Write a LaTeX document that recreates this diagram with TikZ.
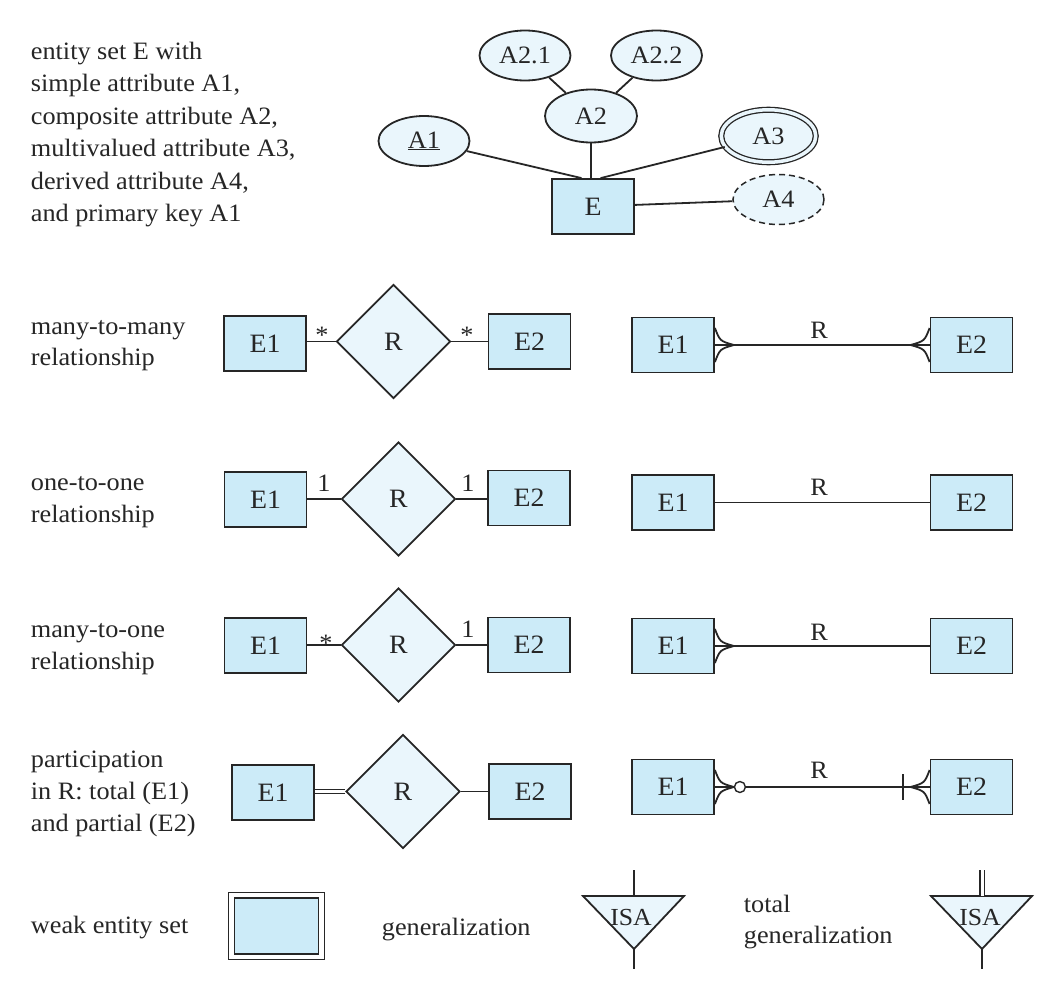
\documentclass[tikz,border=0pt]{standalone}
\usepackage{fontspec}
\setmainfont[FakeStretch=1.05]{Liberation Serif}
\usetikzlibrary{shapes.geometric,calc}
\definecolor{entfill}{HTML}{CCEBF8}
\definecolor{attfill}{HTML}{EAF6FC}
\definecolor{ink}{HTML}{262626}
\newcommand{\crowfoot}[2]{%
  \draw ($#1+(0,-17)$) .. controls ($#1+(#2*5,-4)$) .. ($#1+(#2*19,0)$);
  \draw ($#1+(0,17)$) .. controls ($#1+(#2*5,4)$) .. ($#1+(#2*19,0)$);}
\begin{document}
\begin{tikzpicture}[x=1pt,y=-1pt,line width=1.8pt,draw=ink,
  every node/.style={font=\fontsize{25}{30}\selectfont,text=ink},
  ent/.style={draw=ink,fill=entfill,minimum width=82pt,minimum height=55pt,inner sep=0pt,font=\fontsize{26.5}{30}\selectfont},
  attr/.style={ellipse,draw=ink,fill=attfill,minimum width=91pt,minimum height=50pt,inner sep=0pt},
  rel/.style={diamond,draw=ink,fill=attfill,minimum width=114pt,minimum height=114pt,inner sep=0pt,font=\fontsize{26.5}{30}\selectfont},
  txt/.style={anchor=base west,inner sep=0pt},
  lab/.style={anchor=base,inner sep=0pt},
  isatri/.style={draw=ink,fill=attfill,line join=miter}]
\useasboundingbox[fill=white] (0,0) rectangle (1063,1001);

% ---------- top: entity with attributes ----------
\node[txt] (t1) at (30,59) {entity set E with};
\node[txt] (t2) at (30,91.5) {simple attribute A1,};
\node[txt] (t3) at (30,124) {composite attribute A2,};
\node[txt] (t4) at (30,156.5) {multivalued attribute A3,};
\node[txt] (t5) at (30,189) {derived attribute A4,};
\node[txt] (t6) at (30,221.5) {and primary key A1};

\node[ent] (E) at (593,206.5) {E};
\node[attr] (A1) at (424,141) {\underline{A1}};
\node[attr,minimum width=92pt,minimum height=53pt] (A2) at (591,116) {A2};
\node[attr] (A21) at (525,55.5) {A2.1};
\node[attr] (A22) at (656.5,55.5) {A2.2};
\node[attr,line width=1.3pt,minimum width=94.5pt,minimum height=52.5pt,double=attfill,double distance=3.5pt] (A3) at (768.5,136) {A3};
\node[attr,line width=1.5pt,dash pattern=on 6pt off 4pt] (A4) at (778.5,199.5) {A4};
\draw (A1) -- (E.112);
\draw (A2) -- (A2 |- E.north);
\draw (A21) -- (A2);
\draw (A22) -- (A2);
\draw (A3) -- (E.75);
\draw (E) -- (A4);

% ---------- row 1: many-to-many ----------
\node[txt] (m1) at (30,334) {many-to-many};
\node[txt] (m2) at (30,365) {relationship};
\node[ent] (r1a) at (265,343.5) {E1};
\node[rel] (r1r) at (393.5,341.5) {R};
\node[ent] (r1b) at (529.5,341.5) {E2};
\draw (r1r.west) -- (r1r.west -| r1a.east);
\draw (r1r.east) -- (r1b.west);
\node[lab] (s1a) at (322,343.5) {*};
\node[lab] (s1b) at (467,343.5) {*};

\node[ent] (q1a) at (673,345) {E1};
\node[ent] (q1b) at (971.5,345) {E2};
\draw (q1a.east) -- (q1b.west);
\crowfoot{(q1a.east)}{1}
\crowfoot{(q1b.west)}{-1}
\node[lab] (q1r) at (819,338) {R};

% ---------- row 2: one-to-one ----------
\node[txt] (o1) at (30,490) {one-to-one};
\node[txt] (o2) at (30,522) {relationship};
\node[ent] (r2a) at (265.5,499.5) {E1};
\node[rel] (r2r) at (398.5,499) {R};
\node[ent] (r2b) at (529,498) {E2};
\draw (r2r.west) -- (r2r.west -| r2a.east);
\draw (r2r.east) -- (r2r.east -| r2b.west);
\node[lab] (n2a) at (324,491) {1};
\node[lab] (n2b) at (468,491) {1};

\node[ent] (q2a) at (673,502.5) {E1};
\node[ent] (q2b) at (971.5,502.5) {E2};
\draw (q2a.east) -- (q2b.west);
\node[lab] (q2r) at (819,495) {R};

% ---------- row 3: many-to-one ----------
\node[txt] (w1) at (30,637) {many-to-one};
\node[txt] (w2) at (30,669) {relationship};
\node[ent] (r3a) at (265.5,645.5) {E1};
\node[rel] (r3r) at (398.5,645) {R};
\node[ent] (r3b) at (529,645) {E2};
\draw (r3r.west) -- (r3r.west -| r3a.east);
\draw (r3r.east) -- (r3r.east -| r3b.west);
\node[lab] (s3a) at (326,651) {*};
\node[lab] (n3b) at (468,637) {1};

\node[ent] (q3a) at (673,646) {E1};
\node[ent] (q3b) at (971.5,646) {E2};
\draw (q3a.east) -- (q3b.west);
\crowfoot{(q3a.east)}{1}
\node[lab] (q3r) at (819,640) {R};

% ---------- row 4: participation ----------
\node[txt] (p1) at (30,767) {participation};
\node[txt] (p2) at (30,799) {in R: total (E1)};
\node[txt] (p3) at (30,831) {and partial (E2)};
\node[ent] (r4a) at (273,792.5) {E1};
\node[rel] (r4r) at (403,791.5) {R};
\node[ent] (r4b) at (530,791.5) {E2};
\draw[line width=1.2pt,double distance=2.5pt] (r4r.west) -- (r4r.west -| r4a.east);
\draw (r4r.east) -- (r4b.west);

\node[ent] (q4a) at (673,787) {E1};
\node[ent] (q4b) at (971.5,787) {E2};
\crowfoot{(q4a.east)}{1}
\node[circle,draw=ink,fill=white,line width=1.4pt,minimum size=11pt,inner sep=0pt] (c4) at ($(q4a.east)+(25,0)$) {};
\draw (q4a.east) -- (c4.west);
\draw (c4.east) -- (q4b.west);
\coordinate (bt) at ($(q4b.west)+(-27,-13)$);
\coordinate (bb) at ($(q4b.west)+(-27,13)$);
\draw (bt) -- (bb);
\crowfoot{(q4b.west)}{-1}
\node[lab] (q4r) at (819,778) {R};

% ---------- bottom row ----------
\node[txt] (wk) at (30,933) {weak entity set};
\node[ent,minimum width=90pt,minimum height=61.5pt,line width=1.4pt,double=white,double distance=4.2pt] (we) at (276.5,926) {};

\node[txt] (gen) at (381,935) {generalization};
\coordinate (i1l) at (583,896);
\coordinate (i1r) at (684,896);
\coordinate (i1b) at (634,949);
\coordinate (i1t) at (634,896);
\coordinate (i1u) at (634,870);
\coordinate (i1d) at (634,969);
\draw[isatri] (i1l) -- (i1r) -- (i1b) -- cycle;
\node[lab,font=\fontsize{24.5}{28}\selectfont] (isa1) at (631,925) {ISA};
\draw (i1u) -- (i1t);
\draw (i1b) -- (i1d);

\node[txt] (tg1) at (743,912) {total};
\node[txt] (tg2) at (743,943) {generalization};
\coordinate (i2l) at (931,896);
\coordinate (i2r) at (1032,896);
\coordinate (i2b) at (982,949);
\coordinate (i2t) at (982,896);
\coordinate (i2u) at (982,870);
\coordinate (i2d) at (982,969);
\draw[isatri] (i2l) -- (i2r) -- (i2b) -- cycle;
\node[lab,font=\fontsize{24.5}{28}\selectfont] (isa2) at (980,925) {ISA};
\draw[line width=1.2pt,double distance=3pt] (i2u) -- (i2t);
\draw (i2b) -- (i2d);
\end{tikzpicture}
\end{document}
